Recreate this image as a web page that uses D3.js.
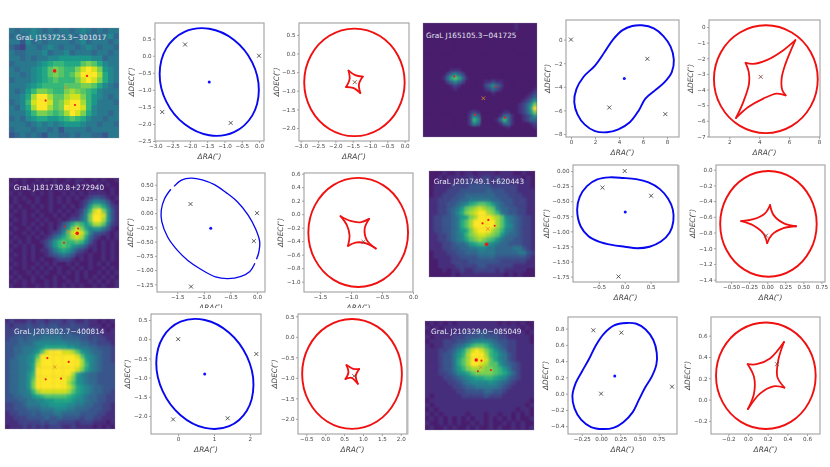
<!DOCTYPE html>
<html><head><meta charset="utf-8">
<script src="https://cdn.jsdelivr.net/npm/d3@7"></script>
<style>html,body{margin:0;padding:0;background:#fff}svg{display:block;filter:blur(.3px)}text{font-family:"DejaVu Sans",sans-serif}</style>
</head><body><svg id="c" width="830" height="467"></svg>
<script>
// ---------- DATA ----------
const names=["GraL J153725.3−301017","GraL J165105.3−041725","GraL J181730.8+272940","GraL J201749.1+620443","GraL J203802.7−400814","GraL J210329.0−085049"];
// image brightness grids, hex levels
const grid1=["65667656566567656566","56567665756656565675","66475656666567566656","54366567656656765665","65566675667566656656","66565667788888877566","56666789aa999bcb9766","6566789bcbaacefec876","6656789bcbabdfffd976","5666789abaaacefec976","666789aaaabbbccb9765","6568accbaacdcba97666","6679dffdbbdeeca87656","567aeffebceffda86665","6579dffdbcfffea76666","6668accbabdfec976656","5657899889aba9766566","66656767678887665665","56665665646666566666","45656546655656655466"];
const grid2=["111111111111111111111111211111","111111111111111111111111211111","111111111111111111111111111111","111111111111111111111111111111","111111111111111111111111111111","111111111111111111111111111111","111111111111111111111111111111","111111111111111111111111111111","111111111111111111111111111111","111111111111111111111111111111","111111111111111111111111111111","111111111111111111111111111111","111111122211111111111111111111","111111357531111111111111111111","11111259b952111111111111111111","111111357531111122322111111111","111111123211111135753111111111","111111112111111123532111111112","111111111111111111211111111123","111111111111111111111111111235","111111111111111111111111112358","11111111111111111111111112358c","11111111111111111111111112359f","11111111111123211111122112358c","111111111111375111112552112358","111111111111 3a7111125a5211235".replace(" ",""),"111111111111375111112552111123","111111111111111111111121111112","111111111111111111111111111111","111111111111111111111111111111"];
const grid3=["1212112121211212211212112","2112121211212112121121211","1211212112121212112121121","2121121212112121212222121","1212112112121212123443212","121121211212121123577 6421".replace(" ",""),"2121121212112121248bb9632","121211211212121236aefc842","211212121121212247cffe842","1212112121121233 57cffd842".replace(" ",""),"211212121212469ba8addb632","121121211 21358cec97886421".replace(" ",""),"2112121212347befeb7443212","1211212123579bded95321212","2121211235 8abaaba74212121".replace(" ",""),"12121211358aba87642212121","211212122468986432 1212121".replace(" ",""),"1212121123456542212112121","2112121211233321212112121","1212112121211212112121211","2112121212121121212112121","1211212121121212121121212","2121121211212112121212121","1212121121211212112121212","2112112121212121211212112"];
const grid4=["111211212212222122211211","112122222322332322222121","112222233333332333222221","122223333444443333332221","122233344444454443332222","122333445555555444333222","223334455666665544433322","2233445679abba8654433322","22334568bcdedcb755443322","22334579cdeffdca65443322","233445689cdfffedb7654332","23344569bdfffffdb8654332","23344569bdfffffdb8754332","233445689cefffdca7654332","22334567acdeedcb86554332","223345679bcdcba865544332","22233455689aa87655444332","222334455667766555566432","122233445556666555556643","122223344445555444444432","112223333444444433333322","112222333334433333322222","111212232233333232222211","111112122222222221212111"];
const grid5=["2322232332333233223221212","3233343343443334333222121","3334344444454443433332212","3344445455555454444333222","3445455566666555544343322","4445556777777766655443332","4455666789999988766554443","44556678befffeedb87655443","4456678bffffffffeb8765443","4556678dfffffffffd9765443","4556679efffffffffda765444","4556679fffffffffec9765444","455668affffffffd976554444","455668bfffffffec876554444","455668cfffffffdb876554444","455668cfffffffec987655444","455667adeeeeeedb987655443","44556689abbbbba9876554433","4445566778899998776554433","3344566677888877665544332","3344455566677766555444332","2334445455566555544443322","2233344445445444434433222","2223333343443333233322212","1222323232333223222212121"];
const grid6=["121212122222222212121211","212122222222222222222121","122222223334443332222212","212222333444544433222221","122233344567776544332221","2122334568abba8654332222","222334579cefeca865332222","22234468adfffda976432222","22234469bdfffeb976432222","22234469bdffedbb86543222","22234468acdddccba8643222","2223345789bccccba9753222","2222334567899aa987543222","222223345677778765432222","222222334556666654322222","222222233444455443222222","212222223333343332222222","122222222222222222222221","212222222222222222222212","121222222222222222221221","212122222122212212212121","121212121212212121212112","211212121121212112121211","121121211212112121121212"];
const grids=[grid1,grid2,grid3,grid4,grid5,grid6];
// image detections (fractions of image) : lensed images, and the lens
const spots1=[[.415,.39,1.8],[.709,.436,1.1],[.333,.66,1.1],[.6,.70,1.1]], lens1=[.515,.54];
const spots2=[[.275,.47,1],[.64,.56,1],[.455,.805,1],[.72,.83,1.1]], lens2=[.53,.66];
const spots3=[[.506,.442,1],[.628,.46,1],[.62,.503,1.8],[.5,.588,1]], lens3=[.54,.485];
const spots4=[[.505,.494,1.1],[.56,.462,1.1],[.62,.516,1],[.543,.692,1.8]], lens4=[.555,.547];
const spots5=[[.385,.355,1.1],[.579,.39,1.1],[.37,.548,1.1],[.509,.542,1.1]], lens5=[.452,.436];
const spots6=[[.47,.358,1.8],[.518,.364,1.1],[.485,.462,1],[.604,.45,1]], lens6=[.512,.425];
// critical curves (blue)
const crit1=[[-.005,-1.007],[-.197,-.193],[-.7225,.465],[-1.44,.792],[-2.1575,.701],[-2.683,.216],[-2.875,-.533],[-2.683,-1.347],[-2.1575,-2.005],[-1.44,-2.333],[-.7225,-2.241],[-.197,-1.756]];
const crit2=[[5.9,1.21],[6.9,.95],[7.7,.3],[8.3,-.6],[8.57,-1.7],[8.4,-2.75],[7.8,-3.6],[7.0,-4.3],[6.2,-5.0],[5.65,-6.0],[4.9,-7.0],[3.95,-7.6],[3.0,-7.85],[2.0,-7.75],[1.15,-7.2],[.55,-6.35],[.27,-5.3],[.45,-4.2],[1.05,-3.15],[2.0,-2.2],[2.8,-1.05],[3.5,.0],[4.3,.8],[5.1,1.15]];
const crit3a=[[-1.56,.47],[-1.42,.58],[-1.24,.615],[-1.03,.585],[-.8,.5],[-.58,.36],[-.37,.2],[-.17,-.03],[-.03,-.27],[.05,-.5],[.03,-.7],[-.01,-.81]];
const crit3b=[[-.04,-.88],[-.14,-1.03],[-.3,-1.11],[-.55,-1.15],[-.78,-1.12],[-1.05,-.99],[-1.3,-.83],[-1.5,-.65],[-1.68,-.42],[-1.79,-.15],[-1.8,.05],[-1.74,.25],[-1.62,.42]];
const crit4=[[-.92,-.64],[-.87,-.43],[-.73,-.25],[-.53,-.14],[-.3,-.105],[-.03,-.115],[.22,-.135],[.46,-.19],[.68,-.3],[.84,-.46],[.93,-.64],[.94,-.83],[.87,-1.02],[.7,-1.17],[.48,-1.255],[.24,-1.28],[0,-1.255],[-.25,-1.225],[-.5,-1.17],[-.7,-1.08],[-.85,-.92]];
const crit5=[[2.1,-1.192],[1.918,-.45],[1.4225,.17],[.745,.501],[.0675,.455],[-.428,.046],[-.61,-.618],[-.428,-1.36],[.0675,-1.98],[.745,-2.311],[1.4225,-2.265],[1.918,-1.856]];
const crit6=[[.33,.87],[.46,.86],[.58,.79],[.68,.66],[.725,.5],[.72,.36],[.66,.21],[.57,.07],[.49,-.08],[.41,-.23],[.29,-.35],[.16,-.42],[.02,-.435],[-.13,-.41],[-.26,-.32],[-.345,-.18],[-.373,-.03],[-.33,.13],[-.25,.27],[-.16,.42],[-.07,.59],[.03,.73],[.17,.84]];
// image positions (crosses) and lens centre (dot)
const imgs1=[[0,0],[-2.14,.33],[-2.8,-1.65],[-.82,-1.97]], dot1=[-1.44,-.77];
const imgs2=[[0,0],[6.36,-1.63],[3.19,-5.75],[7.86,-6.31]], dot2=[4.44,-3.3];
const imgs3=[[0,0],[-1.25,.16],[-.06,-.49],[-1.24,-1.29]], dot3=[-.87,-.265];
const imgs4=[[0,0],[-.43,-.275],[.51,-.41],[-.12,-1.75]], dot4=[.01,-.68];
const imgs5=[[0,0],[2.18,-.385],[-.14,-2.09],[1.38,-2.06]], dot5=[.74,-.91];
const imgs6=[[0,0],[-.1,.78],[.264,.75],[.923,.086]], dot6=[.178,.217];
// caustics (red): outer curve, four cusp-to-cusp arcs, source
const outer1=[[0,-.775],[-.194,-.0525],[-.725,.476],[-1.45,.67],[-2.175,.476],[-2.706,-.0525],[-2.9,-.775],[-2.706,-1.4975],[-2.175,-2.026],[-1.45,-2.22],[-.725,-2.026],[-.194,-1.4975]];
const arcs1=[[[-1.62,-.46],[-1.43,-.58],[-1.21,-.62]],[[-1.21,-.62],[-1.32,-.83],[-1.28,-1.06]],[[-1.28,-1.06],[-1.47,-.93],[-1.69,-.9]],[[-1.69,-.9],[-1.59,-.69],[-1.62,-.46]]], src1=[-1.44,-.77];
const outer2=[[7.92,-3.34],[7.454,-1.615],[6.18,-.352],[4.445,.11],[2.71,-.352],[1.436,-1.615],[.97,-3.34],[1.436,-5.065],[2.71,-6.328],[4.445,-6.79],[6.18,-6.328],[7.454,-5.065]];
const arcs2=[[[3.09,-2.29],[3.61,-2.36],[4.5,-2.12],[5.62,-1.48],[6.42,-.84]],[[6.42,-.84],[5.73,-2.44],[5.5,-3.3],[5.55,-4.05],[5.77,-4.37]],[[5.77,-4.37],[5.17,-4.26],[4.28,-4.58],[3.27,-5.12],[2.45,-5.82]],[[2.45,-5.82],[2.94,-4.79],[3.32,-3.62],[3.3,-2.87],[3.09,-2.29]]], src2=[4.1,-3.19];
const outer3=[[-.08,-.27],[-.188,.134],[-.4825,.43],[-.885,.538],[-1.2875,.43],[-1.582,.134],[-1.69,-.27],[-1.582,-.674],[-1.2875,-.97],[-.885,-1.078],[-.4825,-.97],[-.188,-.674]];
const arcs3=[[[-1.17,-.03],[-1.01,-.1],[-.85,-.12],[-.71,-.07]],[[-.71,-.07],[-.78,-.21],[-.745,-.385],[-.6,-.51]],[[-.6,-.51],[-.77,-.43],[-.93,-.42],[-1.05,-.47]],[[-1.05,-.47],[-1.025,-.31],[-1.07,-.16],[-1.17,-.03]]], src3=[-.8,-.41];
const outer4=[[.685,-.69],[.5955,-.3535],[.3515,-.107],[.0175,-.017],[-.3165,-.107],[-.5605,-.3535],[-.65,-.69],[-.5605,-1.0265],[-.3165,-1.273],[.0175,-1.363],[.3515,-1.273],[.5955,-1.0265]];
const arcs4=[[[.04,-.45],[.087,-.575],[.225,-.68],[.4,-.72]],[[.4,-.72],[.225,-.745],[.064,-.83],[0,-.935]],[[0,-.935],[-.05,-.815],[-.19,-.71],[-.36,-.655]],[[-.36,-.655],[-.19,-.63],[-.03,-.555],[.04,-.45]]], src4=[-.015,-.84];
const outer5=[[2.03,-.905],[1.853,-.235],[1.37,.255],[.71,.435],[.05,.255],[-.433,-.235],[-.61,-.905],[-.433,-1.575],[.05,-2.065],[.71,-2.245],[1.37,-2.065],[1.853,-1.575]];
const arcs5=[[[.563,-.69],[.74,-.78],[.9,-.786]],[[.9,-.786],[.81,-.95],[.863,-1.145]],[[.863,-1.145],[.695,-1.0],[.537,-1.03]],[[.537,-1.03],[.616,-.86],[.563,-.69]]], src5=[.766,-.957];
const outer6=[[.688,.224],[.62,.474],[.435,.657],[.1815,.724],[-.072,.657],[-.257,.474],[-.325,.224],[-.257,-.026],[-.072,-.209],[.1815,-.276],[.435,-.209],[.62,-.026]];
const arcs6=[[[-.003,.332],[.088,.332],[.224,.386],[.366,.54]],[[.366,.54],[.308,.37],[.298,.213],[.37,.113]],[[.37,.113],[.258,.125],[.122,.056],[0,-.088]],[[0,-.088],[.061,.056],[.061,.213],[-.003,.332]]], src6=[.295,.332];
// tick labels
const tk=(...a)=>a;
const ticks={
 b1:[tk(-3,-2.5,-2,-1.5,-1,-.5,0),tk(-2.5,-2,-1.5,-1,-.5,0,.5),".1f",".1f"], r1:[tk(-3,-2.5,-2,-1.5,-1,-.5,0),tk(-2,-1.5,-1,-.5,0,.5),".1f",".1f"],
 b2:[tk(0,2,4,6,8),tk(-8,-6,-4,-2,0),"d","d"], r2:[tk(2,4,6,8),tk(-7,-6,-5,-4,-3,-2,-1,0),"d","d"],
 b3:[tk(-1.5,-1,-.5,0),tk(-1.25,-1,-.75,-.5,-.25,0,.25,.5),".1f",".2f"], r3:[tk(-1.5,-1,-.5,0),tk(-1,-.8,-.6,-.4,-.2,0,.2,.4,.6),".1f",".1f"],
 b4:[tk(-.5,0,.5),tk(-1.75,-1.5,-1.25,-1,-.75,-.5,-.25,0),".1f",".2f"], r4:[tk(-.5,-.25,0,.25,.5,.75),tk(-1.4,-1.2,-1,-.8,-.6,-.4,-.2,0),".2f",".1f"],
 b5:[tk(0,1,2),tk(-2,-1.5,-1,-.5,0,.5),"d",".1f"], r5:[tk(-.5,0,.5,1,1.5,2),tk(-2,-1.5,-1,-.5,0,.5),".1f",".1f"],
 b6:[tk(-.25,0,.25,.5,.75),tk(-.4,-.2,0,.2,.4,.6,.8),".2f",".1f"], r6:[tk(-.2,0,.2,.4,.6),tk(-.2,0,.2,.4,.6),".1f",".1f"]};
const xLabel="ΔRA(″)", yLabel="ΔDEC(″)";

// ---------- LAYOUT ----------
const imgBoxes=[[9,28,110],[423,23,114],[9,178,110],[429,171,106],[5,319,110],[425,321,109]];
const imgBlur=[.7,1.0,1.0,.9,.8,1.0];
const textPos=[[16,37],[426,35.5],[13.7,187],[433.7,181],[14,331],[431,331]];
const blue=[
 {box:[155,264,23,141],xd:[-3.01,.144],yd:[.96,-2.5],yo:24,t:ticks.b1,cl:[crit1],pts:imgs1,dot:dot1},
 {box:[566,679,20,137],xd:[-.417,9],yd:[1.66,-8.25],yo:19,t:ticks.b2,cl:[crit2],pts:imgs2,dot:dot2},
 {box:[157,265,173,292],xd:[-1.88,.15],yd:[.705,-1.385],yo:27,t:ticks.b3,op:[crit3a,crit3b],pts:imgs3,dot:dot3,cut:true},
 {box:[573,678,165,282],xd:[-1.0,1.03],yd:[.1,-1.84],yo:27,t:ticks.b4,cl:[crit4],pts:imgs4,dot:dot4,edge:true},
 {box:[151,261,314,434],xd:[-.757,2.31],yd:[.656,-2.47],yo:24,t:ticks.b5,cl:[crit5],pts:imgs5,dot:dot5},
 {box:[568,677,317,434],xd:[-.43,.988],yd:[.943,-.496],yo:23,t:ticks.b6,cl:[crit6],pts:imgs6,dot:dot6}];
const red=[
 {box:[299,409,23,141],xd:[-3.05,.125],yd:[.82,-2.35],yo:23,t:ticks.r1,cl:[outer1],arcs:arcs1,src:src1},
 {box:[709,820,20,137],xd:[.64,8.07],yd:[.45,-7.04],yo:19,t:ticks.r2,cl:[outer2],arcs:arcs2,src:src2},
 {box:[304,413,173,292],xd:[-1.76,0],yd:[.61,-1.153],yo:24,t:ticks.r3,cl:[outer3],arcs:arcs3,src:src3,cut:true},
 {box:[716,825,165,282],xd:[-.708,.8],yd:[.06,-1.43],yo:24,t:ticks.r4,cl:[outer4],arcs:arcs4,src:src4},
 {box:[298,407,314,434],xd:[-.72,2.165],yd:[.556,-2.37],yo:24,t:ticks.r5,cl:[outer5],arcs:arcs5,src:src5,edge:true},
 {box:[711,820,317,434],xd:[-.376,.732],yd:[.775,-.323],yo:24,t:ticks.r6,cl:[outer6],arcs:arcs6,src:src6}];
const spots=[spots1,spots2,spots3,spots4,spots5,spots6], lenses=[lens1,lens2,lens3,lens4,lens5,lens6];

// ---------- DRAW ----------
const svg=d3.select("#c");
const defs=svg.append("defs");
defs.append("clipPath").attr("id","cutRow").append("rect").attr("x",0).attr("y",0).attr("width",830).attr("height",308);
imgBlur.forEach((s,i)=>defs.append("filter").attr("id","bl"+i).attr("x","-5%").attr("y","-5%").attr("width","110%").attr("height","110%")
  .append("feGaussianBlur").attr("stdDeviation",s));
const colour=d3.scaleSequential(d3.interpolateViridis).domain([0,15]);

grids.forEach((g,i)=>{
  const [x0,y0,s]=imgBoxes[i], n=g.length;
  const px=d3.scaleBand().domain(d3.range(n)).range([x0,x0+s]);
  const py=d3.scaleBand().domain(d3.range(n)).range([y0,y0+s]);
  defs.append("clipPath").attr("id","im"+i).append("rect").attr("x",x0).attr("y",y0).attr("width",s).attr("height",s);
  const clipG=svg.append("g").attr("clip-path",`url(#im${i})`);
  clipG.append("rect").attr("x",x0).attr("y",y0).attr("width",s).attr("height",s).attr("fill",colour(parseInt(g[0][0],16)));
  const cg=clipG.append("g").attr("filter",`url(#bl${i})`);
  const cells=g.flatMap((row,r)=>d3.range(n).map(k=>({r,k,v:parseInt(row[Math.min(k,row.length-1)],16)})));
  cg.selectAll("rect").data(cells).join("rect")
    .attr("x",d=>px(d.k)).attr("y",d=>py(d.r)).attr("width",px.bandwidth()+.4).attr("height",py.bandwidth()+.4)
    .attr("fill",d=>colour(d.v));
  const fx=d3.scaleLinear().domain([0,1]).range([x0,x0+s]), fy=d3.scaleLinear().domain([0,1]).range([y0,y0+s]);
  svg.append("g").selectAll("circle").data(spots[i]).join("circle")
    .attr("cx",d=>fx(d[0])).attr("cy",d=>fy(d[1])).attr("r",d=>d[2]).attr("fill","#f01818");
  svg.append("path").attr("d",d3.symbol(d3.symbolX,10)()).attr("transform",`translate(${fx(lenses[i][0])},${fy(lenses[i][1])})`)
    .attr("fill","none").attr("stroke","#e08a28").attr("stroke-width",.8);
  svg.append("rect").attr("x",x0).attr("y",y0).attr("width",s).attr("height",s).attr("fill","none").attr("stroke","#8a93a0").attr("stroke-width",.5).attr("opacity",.6);
  svg.append("text").attr("x",textPos[i][0]).attr("y",textPos[i][1]).attr("dy","0.35em").attr("font-size",7.3).attr("fill","#e4e4ee").text(names[i]);
});

function panel(p,col,lw){
  const [l,r,t,b]=p.box;
  const x=d3.scaleLinear().domain(p.xd).range([l,r]), y=d3.scaleLinear().domain(p.yd).range([t,b]);
  const g=svg.append("g");
  const lineC=d3.line().x(d=>x(d[0])).y(d=>y(d[1])).curve(d3.curveCatmullRomClosed.alpha(.5));
  const lineO=d3.line().x(d=>x(d[0])).y(d=>y(d[1])).curve(d3.curveCatmullRom.alpha(.5));
  const ax=d3.axisBottom(x).tickValues(p.t[0]).tickFormat(d3.format(p.t[2])).tickSize(2).tickPadding(1.5);
  const ay=d3.axisLeft(y).tickValues(p.t[1]).tickFormat(d3.format(p.t[3])).tickSize(2).tickPadding(1.5);
  const gx=g.append("g").attr("transform",`translate(0,${b})`).call(ax);
  const gy=g.append("g").attr("transform",`translate(${l},0)`).call(ay);
  [gx,gy].forEach(a=>{a.select(".domain").remove();a.selectAll("line").attr("stroke","#444").attr("stroke-width",.5);
    a.selectAll("text").attr("font-size",5.6).attr("fill","#444").attr("font-family",'"DejaVu Sans"');});
  g.append("rect").attr("x",l).attr("y",t).attr("width",r-l).attr("height",b-t).attr("fill","none").attr("stroke","#a0a0a0").attr("stroke-width",1.1);
  if(p.edge) g.append("line").attr("x1",r+.5).attr("x2",r+.5).attr("y1",t).attr("y2",b+.5).attr("stroke","#bbb").attr("stroke-width",2);
  (p.cl||[]).forEach(c=>g.append("path").attr("d",lineC(c)).attr("fill","none").attr("stroke",col).attr("stroke-width",lw));
  (p.op||[]).forEach(c=>g.append("path").attr("d",lineO(c)).attr("fill","none").attr("stroke",col).attr("stroke-width",lw*.7));
  (p.arcs||[]).forEach(c=>g.append("path").attr("d",lineO(c)).attr("fill","none").attr("stroke",col).attr("stroke-width",lw*.95).attr("stroke-linecap","round"));
  if(p.pts) g.selectAll("path.x").data(p.pts).join("path").attr("class","x").attr("d",d3.symbol(d3.symbolX,12)())
    .attr("transform",d=>`translate(${x(d[0])},${y(d[1])})`).attr("fill","none").attr("stroke","#333").attr("stroke-width",.8);
  if(p.dot) g.append("circle").attr("cx",x(p.dot[0])).attr("cy",y(p.dot[1])).attr("r",1.5).attr("fill","#1010ff");
  if(p.src) g.append("path").attr("d",d3.symbol(d3.symbolX,12)()).attr("transform",`translate(${x(p.src[0])},${y(p.src[1])})`)
    .attr("fill","none").attr("stroke","#7a3a30").attr("stroke-width",.8);
  const lb=g.append("g"); if(p.cut) lb.attr("clip-path","url(#cutRow)");
  lb.append("text").attr("x",(l+r)/2).attr("y",b+15).attr("dy","0.35em").attr("text-anchor","middle").attr("font-size",7.4).attr("font-style","italic").attr("fill","#444").text(xLabel);
  g.append("text").attr("transform",`translate(${l-p.yo},${(t+b)/2}) rotate(-90)`).attr("dy","0.35em").attr("text-anchor","middle").attr("font-size",7.4).attr("font-style","italic").attr("fill","#444").text(yLabel);
}
blue.forEach(p=>panel(p,"#0808f0",1.9));
red.forEach(p=>panel(p,"#f01010",1.9));
</script></body></html>
